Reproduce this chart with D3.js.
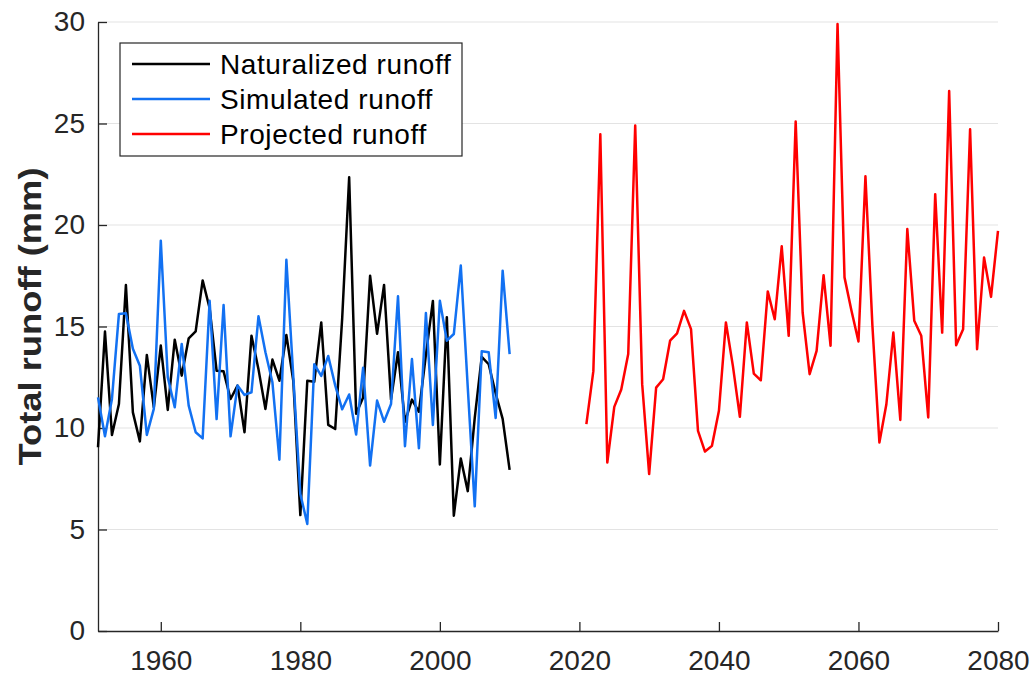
<!DOCTYPE html>
<html>
<head>
<meta charset="utf-8">
<script src="https://cdn.jsdelivr.net/npm/d3@7"></script>
<style>
  body { margin: 0; background: #fff; }
  svg { display: block; font-family: "Liberation Sans", Arial, Helvetica, sans-serif; }
</style>
</head>
<body>
<div id="chart"></div>
<script>
// years on the x axis
const hist_years = d3.range(1951, 2011);
const proj_years = d3.range(2021, 2081);

// naturalized runoff (mm), 1951-2010
const naturalized = [9.05, 14.75, 9.66, 11.18, 17.04, 10.77, 9.34, 13.6, 11.02, 14.06,
                     10.89, 14.35, 12.58, 14.42, 14.76, 17.27, 15.9, 12.82, 12.79, 11.43,
                     12.09, 9.79, 14.55, 12.9, 10.94, 13.37, 12.33, 14.58, 12.3, 5.71,
                     12.33, 12.28, 15.2, 10.15, 9.95, 15.4, 22.35, 10.7, 11.5, 17.5,
                     14.64, 17.05, 11.4, 13.73, 10.3, 11.4, 10.8, 13.6, 16.26, 8.2,
                     15.46, 5.68, 8.5, 6.89, 10.5, 13.5, 13.14, 11.7, 10.45, 7.94];

// simulated runoff (mm), 1951-2010
const simulated = [11.51, 9.59, 11.43, 15.62, 15.65, 13.9, 13.07, 9.66, 10.94, 19.23,
                   12.5, 11.02, 14.14, 11.1, 9.79, 9.49, 16.27, 10.44, 16.06, 9.59,
                   12.09, 11.63, 11.76, 15.5, 13.73, 12.25, 8.44, 18.29, 12.5, 6.75,
                   5.27, 13.14, 12.57, 13.55, 12.1, 10.92, 11.65, 9.68, 12.97, 8.15,
                   11.35, 10.31, 11.18, 16.49, 9.1, 13.4, 9.0, 15.66, 10.15, 16.27,
                   14.3, 14.63, 18.0, 12.0, 6.14, 13.78, 13.73, 10.49, 17.75, 13.64];

// projected runoff (mm), 2021-2080
const projected = [10.19, 12.8, 24.47, 8.3, 11.04, 11.9, 13.64, 24.9, 12.16, 7.73,
                   11.99, 12.4, 14.3, 14.66, 15.77, 14.87, 9.86, 8.84, 9.12, 10.85,
                   15.2, 13.06, 10.55, 15.2, 12.68, 12.35, 16.73, 15.36, 18.95, 14.54,
                   25.1, 15.69, 12.65, 13.8, 17.53, 14.05, 29.9, 17.42, 15.77, 14.26,
                   22.4, 15.03, 9.29, 11.17, 14.7, 10.4, 19.8, 15.28, 14.54, 10.52,
                   21.52, 14.7, 26.6, 14.08, 14.87, 24.72, 13.88, 18.4, 16.46, 19.71];

const x_ticks = [1960, 1980, 2000, 2020, 2040, 2060, 2080];
const y_ticks = [0, 5, 10, 15, 20, 25, 30];
const series_names = ["Naturalized runoff", "Simulated runoff", "Projected runoff"];
const series_colors = ["#000000", "#1271f2", "#ff0000"];

const MARGIN = { LEFT: 98, RIGHT: 36, TOP: 22, BOTTOM: 46 };
const WIDTH = 1034 - (MARGIN.LEFT + MARGIN.RIGHT);
const HEIGHT = 677 - (MARGIN.TOP + MARGIN.BOTTOM);
const AXIS_COLOR = "#262626";

let svg = d3.select("#chart")
    .append("svg")
    .attr("width", 1034)
    .attr("height", 677);

let g = svg.append("g")
    .attr("transform", `translate(${MARGIN.LEFT}, ${MARGIN.TOP})`);

let x = d3.scaleLinear().domain([1951, 2080]).range([0, WIDTH]);
let y = d3.scaleLinear().domain([0, 30]).range([HEIGHT, 0]);

// horizontal grid
g.append("g")
    .selectAll("line")
    .data(y_ticks.filter(d => d > 0))
    .enter()
    .append("line")
    .attr("x1", 0)
    .attr("x2", WIDTH)
    .attr("y1", d => y(d))
    .attr("y2", d => y(d))
    .attr("stroke", "#e3e3e3")
    .attr("stroke-width", 1.2);

// axes (ticks point inward like matlab)
let x_axis = g.append("g")
    .attr("transform", `translate(0, ${HEIGHT})`)
    .call(d3.axisBottom(x).tickValues(x_ticks).tickFormat(d3.format("d"))
        .tickSizeInner(-9).tickSizeOuter(0).tickPadding(19));
let y_axis = g.append("g")
    .call(d3.axisLeft(y).tickValues(y_ticks)
        .tickSizeInner(-9).tickSizeOuter(0).tickPadding(13));

[x_axis, y_axis].forEach(ax => {
    ax.select(".domain").attr("stroke", AXIS_COLOR).attr("stroke-width", 1.3);
    ax.selectAll(".tick line").attr("stroke", AXIS_COLOR).attr("stroke-width", 1.3);
    ax.selectAll(".tick text")
        .attr("fill", AXIS_COLOR)
        .attr("font-size", 28)
        .attr("font-family", "Liberation Sans, Arial, sans-serif");
});
x_axis.selectAll(".tick text").attr("dy", "0.71em");

// y axis title
g.append("text")
    .attr("transform", `translate(${30 - MARGIN.LEFT}, ${HEIGHT / 2 - 10}) rotate(-90)`)
    .attr("text-anchor", "middle")
    .attr("dominant-baseline", "central")
    .attr("font-size", 32)
    .attr("font-weight", "bold")
    .attr("textLength", 298)
    .attr("lengthAdjust", "spacingAndGlyphs")
    .attr("fill", AXIS_COLOR)
    .text("Total runoff (mm)");

// lines
let line = d3.line()
    .x(d => x(d[0]))
    .y(d => y(d[1]));

const series = [
    d3.zip(hist_years, naturalized),
    d3.zip(hist_years, simulated),
    d3.zip(proj_years, projected)
];

g.selectAll(".series")
    .data(series)
    .enter()
    .append("path")
    .attr("class", "series")
    .attr("d", line)
    .attr("fill", "none")
    .attr("stroke", (d, i) => series_colors[i])
    .attr("stroke-width", 2.5)
    .attr("stroke-linejoin", "round");

// legend
let legend = svg.append("g").attr("transform", "translate(120, 43)");
legend.append("rect")
    .attr("width", 342)
    .attr("height", 113)
    .attr("fill", "#fff")
    .attr("stroke", AXIS_COLOR)
    .attr("stroke-width", 1.2);

let item = legend.selectAll(".item")
    .data(series_names)
    .enter()
    .append("g")
    .attr("class", "item")
    .attr("transform", (d, i) => `translate(0, ${21 + i * 35})`);
item.append("line")
    .attr("x1", 12)
    .attr("x2", 90)
    .attr("stroke", (d, i) => series_colors[i])
    .attr("stroke-width", 2.5);
item.append("text")
    .attr("x", 100)
    .attr("dy", "0.35em")
    .attr("font-size", 28)
    .attr("letter-spacing", 0.6)
    .attr("fill", "#000")
    .text(d => d);
</script>
</body>
</html>
